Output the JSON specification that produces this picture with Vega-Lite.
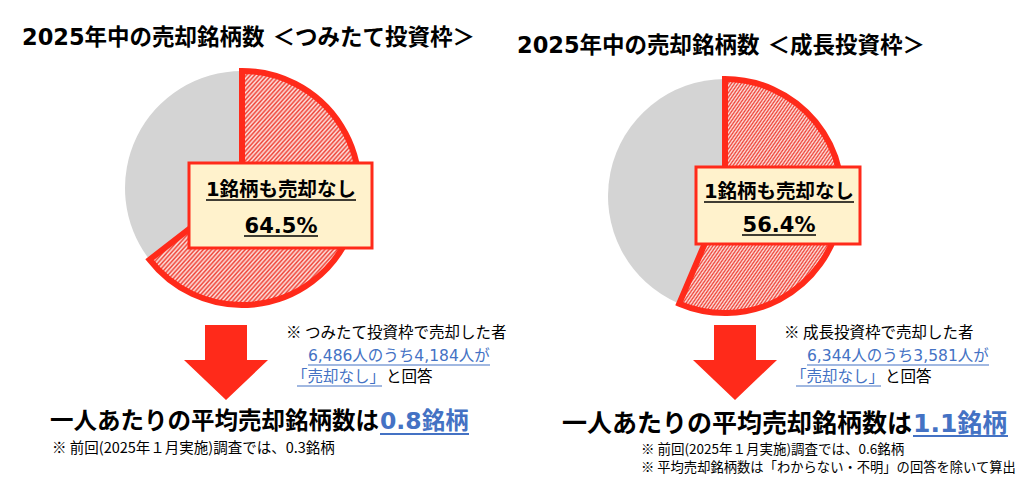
{
  "$schema": "https://vega.github.io/schema/vega-lite/v6.json",
  "description": "2025年中の売却銘柄数 (つみたて投資枠 / 成長投資枠)",
  "width": 1024,
  "height": 478,
  "padding": 0,
  "autosize": {"type": "fit", "contains": "padding"},
  "background": "#ffffff",
  "config": {
    "view": {"stroke": null},
    "text": {"font": "DejaVu Sans, Noto Sans CJK JP", "baseline": "middle", "align": "left"},
    "arc": {
      "fill": {
        "gradient": "linear", "x1": 0, "y1": 0, "x2": 1, "y2": 1,
        "stops": [
          {"offset":0,"color":"#ee4034"},{"offset":0.005,"color":"#fde6e3"},{"offset":0.01,"color":"#ee4034"},{"offset":0.015,"color":"#fde6e3"},{"offset":0.02,"color":"#ee4034"},{"offset":0.025,"color":"#fde6e3"},{"offset":0.03,"color":"#ee4034"},{"offset":0.035,"color":"#fde6e3"},{"offset":0.04,"color":"#ee4034"},{"offset":0.045,"color":"#fde6e3"},
          {"offset":0.05,"color":"#ee4034"},{"offset":0.055,"color":"#fde6e3"},{"offset":0.06,"color":"#ee4034"},{"offset":0.065,"color":"#fde6e3"},{"offset":0.07,"color":"#ee4034"},{"offset":0.075,"color":"#fde6e3"},{"offset":0.08,"color":"#ee4034"},{"offset":0.085,"color":"#fde6e3"},{"offset":0.09,"color":"#ee4034"},{"offset":0.095,"color":"#fde6e3"},
          {"offset":0.1,"color":"#ee4034"},{"offset":0.105,"color":"#fde6e3"},{"offset":0.11,"color":"#ee4034"},{"offset":0.115,"color":"#fde6e3"},{"offset":0.12,"color":"#ee4034"},{"offset":0.125,"color":"#fde6e3"},{"offset":0.13,"color":"#ee4034"},{"offset":0.135,"color":"#fde6e3"},{"offset":0.14,"color":"#ee4034"},{"offset":0.145,"color":"#fde6e3"},
          {"offset":0.15,"color":"#ee4034"},{"offset":0.155,"color":"#fde6e3"},{"offset":0.16,"color":"#ee4034"},{"offset":0.165,"color":"#fde6e3"},{"offset":0.17,"color":"#ee4034"},{"offset":0.175,"color":"#fde6e3"},{"offset":0.18,"color":"#ee4034"},{"offset":0.185,"color":"#fde6e3"},{"offset":0.19,"color":"#ee4034"},{"offset":0.195,"color":"#fde6e3"},
          {"offset":0.2,"color":"#ee4034"},{"offset":0.205,"color":"#fde6e3"},{"offset":0.21,"color":"#ee4034"},{"offset":0.215,"color":"#fde6e3"},{"offset":0.22,"color":"#ee4034"},{"offset":0.225,"color":"#fde6e3"},{"offset":0.23,"color":"#ee4034"},{"offset":0.235,"color":"#fde6e3"},{"offset":0.24,"color":"#ee4034"},{"offset":0.245,"color":"#fde6e3"},
          {"offset":0.25,"color":"#ee4034"},{"offset":0.255,"color":"#fde6e3"},{"offset":0.26,"color":"#ee4034"},{"offset":0.265,"color":"#fde6e3"},{"offset":0.27,"color":"#ee4034"},{"offset":0.275,"color":"#fde6e3"},{"offset":0.28,"color":"#ee4034"},{"offset":0.285,"color":"#fde6e3"},{"offset":0.29,"color":"#ee4034"},{"offset":0.295,"color":"#fde6e3"},
          {"offset":0.3,"color":"#ee4034"},{"offset":0.305,"color":"#fde6e3"},{"offset":0.31,"color":"#ee4034"},{"offset":0.315,"color":"#fde6e3"},{"offset":0.32,"color":"#ee4034"},{"offset":0.325,"color":"#fde6e3"},{"offset":0.33,"color":"#ee4034"},{"offset":0.335,"color":"#fde6e3"},{"offset":0.34,"color":"#ee4034"},{"offset":0.345,"color":"#fde6e3"},
          {"offset":0.35,"color":"#ee4034"},{"offset":0.355,"color":"#fde6e3"},{"offset":0.36,"color":"#ee4034"},{"offset":0.365,"color":"#fde6e3"},{"offset":0.37,"color":"#ee4034"},{"offset":0.375,"color":"#fde6e3"},{"offset":0.38,"color":"#ee4034"},{"offset":0.385,"color":"#fde6e3"},{"offset":0.39,"color":"#ee4034"},{"offset":0.395,"color":"#fde6e3"},
          {"offset":0.4,"color":"#ee4034"},{"offset":0.405,"color":"#fde6e3"},{"offset":0.41,"color":"#ee4034"},{"offset":0.415,"color":"#fde6e3"},{"offset":0.42,"color":"#ee4034"},{"offset":0.425,"color":"#fde6e3"},{"offset":0.43,"color":"#ee4034"},{"offset":0.435,"color":"#fde6e3"},{"offset":0.44,"color":"#ee4034"},{"offset":0.445,"color":"#fde6e3"},
          {"offset":0.45,"color":"#ee4034"},{"offset":0.455,"color":"#fde6e3"},{"offset":0.46,"color":"#ee4034"},{"offset":0.465,"color":"#fde6e3"},{"offset":0.47,"color":"#ee4034"},{"offset":0.475,"color":"#fde6e3"},{"offset":0.48,"color":"#ee4034"},{"offset":0.485,"color":"#fde6e3"},{"offset":0.49,"color":"#ee4034"},{"offset":0.495,"color":"#fde6e3"},
          {"offset":0.5,"color":"#ee4034"},{"offset":0.505,"color":"#fde6e3"},{"offset":0.51,"color":"#ee4034"},{"offset":0.515,"color":"#fde6e3"},{"offset":0.52,"color":"#ee4034"},{"offset":0.525,"color":"#fde6e3"},{"offset":0.53,"color":"#ee4034"},{"offset":0.535,"color":"#fde6e3"},{"offset":0.54,"color":"#ee4034"},{"offset":0.545,"color":"#fde6e3"},
          {"offset":0.55,"color":"#ee4034"},{"offset":0.555,"color":"#fde6e3"},{"offset":0.56,"color":"#ee4034"},{"offset":0.565,"color":"#fde6e3"},{"offset":0.57,"color":"#ee4034"},{"offset":0.575,"color":"#fde6e3"},{"offset":0.58,"color":"#ee4034"},{"offset":0.585,"color":"#fde6e3"},{"offset":0.59,"color":"#ee4034"},{"offset":0.595,"color":"#fde6e3"},
          {"offset":0.6,"color":"#ee4034"},{"offset":0.605,"color":"#fde6e3"},{"offset":0.61,"color":"#ee4034"},{"offset":0.615,"color":"#fde6e3"},{"offset":0.62,"color":"#ee4034"},{"offset":0.625,"color":"#fde6e3"},{"offset":0.63,"color":"#ee4034"},{"offset":0.635,"color":"#fde6e3"},{"offset":0.64,"color":"#ee4034"},{"offset":0.645,"color":"#fde6e3"},
          {"offset":0.65,"color":"#ee4034"},{"offset":0.655,"color":"#fde6e3"},{"offset":0.66,"color":"#ee4034"},{"offset":0.665,"color":"#fde6e3"},{"offset":0.67,"color":"#ee4034"},{"offset":0.675,"color":"#fde6e3"},{"offset":0.68,"color":"#ee4034"},{"offset":0.685,"color":"#fde6e3"},{"offset":0.69,"color":"#ee4034"},{"offset":0.695,"color":"#fde6e3"},
          {"offset":0.7,"color":"#ee4034"},{"offset":0.705,"color":"#fde6e3"},{"offset":0.71,"color":"#ee4034"},{"offset":0.715,"color":"#fde6e3"},{"offset":0.72,"color":"#ee4034"},{"offset":0.725,"color":"#fde6e3"},{"offset":0.73,"color":"#ee4034"},{"offset":0.735,"color":"#fde6e3"},{"offset":0.74,"color":"#ee4034"},{"offset":0.745,"color":"#fde6e3"},
          {"offset":0.75,"color":"#ee4034"},{"offset":0.755,"color":"#fde6e3"},{"offset":0.76,"color":"#ee4034"},{"offset":0.765,"color":"#fde6e3"},{"offset":0.77,"color":"#ee4034"},{"offset":0.775,"color":"#fde6e3"},{"offset":0.78,"color":"#ee4034"},{"offset":0.785,"color":"#fde6e3"},{"offset":0.79,"color":"#ee4034"},{"offset":0.795,"color":"#fde6e3"},
          {"offset":0.8,"color":"#ee4034"},{"offset":0.805,"color":"#fde6e3"},{"offset":0.81,"color":"#ee4034"},{"offset":0.815,"color":"#fde6e3"},{"offset":0.82,"color":"#ee4034"},{"offset":0.825,"color":"#fde6e3"},{"offset":0.83,"color":"#ee4034"},{"offset":0.835,"color":"#fde6e3"},{"offset":0.84,"color":"#ee4034"},{"offset":0.845,"color":"#fde6e3"},
          {"offset":0.85,"color":"#ee4034"},{"offset":0.855,"color":"#fde6e3"},{"offset":0.86,"color":"#ee4034"},{"offset":0.865,"color":"#fde6e3"},{"offset":0.87,"color":"#ee4034"},{"offset":0.875,"color":"#fde6e3"},{"offset":0.88,"color":"#ee4034"},{"offset":0.885,"color":"#fde6e3"},{"offset":0.89,"color":"#ee4034"},{"offset":0.895,"color":"#fde6e3"},
          {"offset":0.9,"color":"#ee4034"},{"offset":0.905,"color":"#fde6e3"},{"offset":0.91,"color":"#ee4034"},{"offset":0.915,"color":"#fde6e3"},{"offset":0.92,"color":"#ee4034"},{"offset":0.925,"color":"#fde6e3"},{"offset":0.93,"color":"#ee4034"},{"offset":0.935,"color":"#fde6e3"},{"offset":0.94,"color":"#ee4034"},{"offset":0.945,"color":"#fde6e3"},
          {"offset":0.95,"color":"#ee4034"},{"offset":0.955,"color":"#fde6e3"},{"offset":0.96,"color":"#ee4034"},{"offset":0.965,"color":"#fde6e3"},{"offset":0.97,"color":"#ee4034"},{"offset":0.975,"color":"#fde6e3"},{"offset":0.98,"color":"#ee4034"},{"offset":0.985,"color":"#fde6e3"},{"offset":0.99,"color":"#ee4034"},{"offset":0.995,"color":"#fde6e3"},
          {"offset":1,"color":"#ee4034"}
        ]
      }
    }
  },
  "datasets": {
    "pie": [
      {"panel": "つみたて投資枠", "category": "売却なし", "pct": 64.5},
      {"panel": "つみたて投資枠", "category": "売却あり", "pct": 35.5},
      {"panel": "成長投資枠", "category": "売却なし", "pct": 56.4},
      {"panel": "成長投資枠", "category": "売却あり", "pct": 43.6}
    ]
  },
  "layer": [
    {
      "data": {"name": "pie"},
      "transform": [{"filter": "datum.panel === 'つみたて投資枠'"}],
      "mark": {"type": "arc", "radius": 117, "x": 242, "y": 188, "fill": "#d4d4d4"},
      "encoding": {
        "theta": {"field": "pct", "type": "quantitative", "stack": true},
        "order": {"field": "category", "type": "ordinal", "sort": "descending"}
      }
    },
    {
      "data": {"name": "pie"},
      "transform": [{"filter": "datum.panel === 'つみたて投資枠'"}],
      "mark": {"type": "arc", "radius": 117, "x": 242, "y": 188, "stroke": "#ff2a1a", "strokeWidth": 6, "strokeJoin": "miter"},
      "encoding": {
        "theta": {"field": "pct", "type": "quantitative", "stack": true},
        "order": {"field": "category", "type": "ordinal", "sort": "descending"},
        "fillOpacity": {"condition": {"test": "datum.category === '売却なし'", "value": 1}, "value": 0},
        "strokeOpacity": {"condition": {"test": "datum.category === '売却なし'", "value": 1}, "value": 0}
      }
    },
    {
      "data": {"name": "pie"},
      "transform": [{"filter": "datum.panel === '成長投資枠'"}],
      "mark": {"type": "arc", "radius": 117, "x": 725, "y": 196, "fill": "#d4d4d4"},
      "encoding": {
        "theta": {"field": "pct", "type": "quantitative", "stack": true},
        "order": {"field": "category", "type": "ordinal", "sort": "descending"}
      }
    },
    {
      "data": {"name": "pie"},
      "transform": [{"filter": "datum.panel === '成長投資枠'"}],
      "mark": {"type": "arc", "radius": 117, "x": 725, "y": 196, "stroke": "#ff2a1a", "strokeWidth": 6, "strokeJoin": "miter"},
      "encoding": {
        "theta": {"field": "pct", "type": "quantitative", "stack": true},
        "order": {"field": "category", "type": "ordinal", "sort": "descending"},
        "fillOpacity": {"condition": {"test": "datum.category === '売却なし'", "value": 1}, "value": 0},
        "strokeOpacity": {"condition": {"test": "datum.category === '売却なし'", "value": 1}, "value": 0}
      }
    },
    {
      "data": {"values": [{"t": "2025年中の売却銘柄数 ＜つみたて投資枠＞"}]},
      "mark": {"type": "text", "x": 22, "y": 38, "fontSize": 22.5, "fontWeight": "bold", "fill": "#000000"},
      "encoding": {"text": {"field": "t"}}
    },
    {
      "data": {"values": [{"t": "2025年中の売却銘柄数 ＜成長投資枠＞"}]},
      "mark": {"type": "text", "x": 517, "y": 46, "fontSize": 22.5, "fontWeight": "bold", "fill": "#000000"},
      "encoding": {"text": {"field": "t"}}
    },
    {
      "data": {"values": [{"t": "1銘柄も売却なし"}]},
      "mark": {"type": "rect", "fill": "#fff2cc", "stroke": "#ff2a1a", "strokeWidth": 3},
      "encoding": {"x": {"value": 189}, "x2": {"value": 372}, "y": {"value": 163}, "y2": {"value": 248}}
    },
    {
      "data": {"values": [{"t": "1銘柄も売却なし"}]},
      "mark": {"type": "rect", "fill": "#fff2cc", "stroke": "#ff2a1a", "strokeWidth": 3},
      "encoding": {"x": {"value": 696}, "x2": {"value": 860}, "y": {"value": 167}, "y2": {"value": 244}}
    },
    {
      "data": {"values": [{"t": "1銘柄も売却なし"}]},
      "layer": [
        {"mark": {"type": "text", "x": 281, "y": 190, "align": "center", "fontSize": 19.5, "fontWeight": "bold", "fill": "#000000"}, "encoding": {"text": {"field": "t"}}},
        {"mark": {"type": "rule", "stroke": "#000000", "strokeWidth": 1.5}, "encoding": {"x": {"value": 206}, "x2": {"value": 356}, "y": {"value": 200}}}
      ]
    },
    {
      "data": {"values": [{"t": "64.5%"}]},
      "layer": [
        {"mark": {"type": "text", "x": 281, "y": 227, "align": "center", "fontSize": 21, "fontWeight": "bold", "fill": "#000000"}, "encoding": {"text": {"field": "t"}}},
        {"mark": {"type": "rule", "stroke": "#000000", "strokeWidth": 1.5}, "encoding": {"x": {"value": 244}, "x2": {"value": 318}, "y": {"value": 236}}}
      ]
    },
    {
      "data": {"values": [{"t": "1銘柄も売却なし"}]},
      "layer": [
        {"mark": {"type": "text", "x": 779, "y": 192, "align": "center", "fontSize": 19.5, "fontWeight": "bold", "fill": "#000000"}, "encoding": {"text": {"field": "t"}}},
        {"mark": {"type": "rule", "stroke": "#000000", "strokeWidth": 1.5}, "encoding": {"x": {"value": 704}, "x2": {"value": 854}, "y": {"value": 202}}}
      ]
    },
    {
      "data": {"values": [{"t": "56.4%"}]},
      "layer": [
        {"mark": {"type": "text", "x": 779, "y": 226, "align": "center", "fontSize": 21, "fontWeight": "bold", "fill": "#000000"}, "encoding": {"text": {"field": "t"}}},
        {"mark": {"type": "rule", "stroke": "#000000", "strokeWidth": 1.5}, "encoding": {"x": {"value": 742}, "x2": {"value": 816}, "y": {"value": 235}}}
      ]
    },
    {
      "data": {"values": [{"t": "arrow"}]},
      "mark": {"type": "point", "shape": "M-0.5,-0.893L0.5,-0.893L0.5,-0.06L1,-0.06L0,0.893L-1,-0.06L-0.5,-0.06Z", "size": 7056, "filled": true, "opacity": 1, "fill": "#ff2a1a", "strokeWidth": 0, "x": 226, "y": 362.5},
      "encoding": {}
    },
    {
      "data": {"values": [{"t": "arrow"}]},
      "mark": {"type": "point", "shape": "M-0.5,-0.893L0.5,-0.893L0.5,-0.06L1,-0.06L0,0.893L-1,-0.06L-0.5,-0.06Z", "size": 7056, "filled": true, "opacity": 1, "fill": "#ff2a1a", "strokeWidth": 0, "x": 735, "y": 362.5},
      "encoding": {}
    },
    {
      "data": {"values": [{"t": "※ つみたて投資枠で売却した者"}]},
      "mark": {"type": "text", "x": 286, "y": 333, "fontSize": 15.5, "font": "Noto Sans CJK JP", "fill": "#000000"},
      "encoding": {"text": {"field": "t"}}
    },
    {
      "data": {"values": [{"t": "6,486人のうち4,184人が"}]},
      "layer": [
        {"mark": {"type": "text", "x": 308, "y": 356, "fontSize": 15.5, "fill": "#4472c4"}, "encoding": {"text": {"field": "t"}}},
        {"mark": {"type": "rule", "stroke": "#4472c4", "strokeWidth": 1.2}, "encoding": {"x": {"value": 308}, "x2": {"value": 490}, "y": {"value": 365}}}
      ]
    },
    {
      "data": {"values": [{"t": "「売却なし」"}]},
      "layer": [
        {"mark": {"type": "text", "x": 292, "y": 377, "fontSize": 15.5, "fill": "#4472c4"}, "encoding": {"text": {"field": "t"}}},
        {"mark": {"type": "rule", "stroke": "#4472c4", "strokeWidth": 1.2}, "encoding": {"x": {"value": 297}, "x2": {"value": 382}, "y": {"value": 386}}}
      ]
    },
    {
      "data": {"values": [{"t": "と回答"}]},
      "mark": {"type": "text", "x": 386, "y": 377, "fontSize": 15.5, "fill": "#000000"},
      "encoding": {"text": {"field": "t"}}
    },
    {
      "data": {"values": [{"t": "※ 成長投資枠で売却した者"}]},
      "mark": {"type": "text", "x": 784, "y": 333, "fontSize": 15.5, "font": "Noto Sans CJK JP", "fill": "#000000"},
      "encoding": {"text": {"field": "t"}}
    },
    {
      "data": {"values": [{"t": "6,344人のうち3,581人が"}]},
      "layer": [
        {"mark": {"type": "text", "x": 807, "y": 356, "fontSize": 15.5, "fill": "#4472c4"}, "encoding": {"text": {"field": "t"}}},
        {"mark": {"type": "rule", "stroke": "#4472c4", "strokeWidth": 1.2}, "encoding": {"x": {"value": 807}, "x2": {"value": 989}, "y": {"value": 365}}}
      ]
    },
    {
      "data": {"values": [{"t": "「売却なし」"}]},
      "layer": [
        {"mark": {"type": "text", "x": 791, "y": 377, "fontSize": 15.5, "fill": "#4472c4"}, "encoding": {"text": {"field": "t"}}},
        {"mark": {"type": "rule", "stroke": "#4472c4", "strokeWidth": 1.2}, "encoding": {"x": {"value": 796}, "x2": {"value": 881}, "y": {"value": 386}}}
      ]
    },
    {
      "data": {"values": [{"t": "と回答"}]},
      "mark": {"type": "text", "x": 885, "y": 377, "fontSize": 15.5, "fill": "#000000"},
      "encoding": {"text": {"field": "t"}}
    },
    {
      "data": {"values": [{"t": "一人あたりの平均売却銘柄数は"}]},
      "mark": {"type": "text", "x": 50, "y": 422, "fontSize": 23.5, "fontWeight": "bold", "fill": "#000000"},
      "encoding": {"text": {"field": "t"}}
    },
    {
      "data": {"values": [{"t": "0.8銘柄"}]},
      "layer": [
        {"mark": {"type": "text", "x": 380, "y": 422, "fontSize": 23.5, "fontWeight": "bold", "fill": "#4472c4"}, "encoding": {"text": {"field": "t"}}},
        {"mark": {"type": "rule", "stroke": "#4472c4", "strokeWidth": 2}, "encoding": {"x": {"value": 380}, "x2": {"value": 469}, "y": {"value": 434}}}
      ]
    },
    {
      "data": {"values": [{"t": "一人あたりの平均売却銘柄数は"}]},
      "mark": {"type": "text", "x": 562, "y": 424, "fontSize": 25, "fontWeight": "bold", "fill": "#000000"},
      "encoding": {"text": {"field": "t"}}
    },
    {
      "data": {"values": [{"t": "1.1銘柄"}]},
      "layer": [
        {"mark": {"type": "text", "x": 913, "y": 424, "fontSize": 25, "fontWeight": "bold", "fill": "#4472c4"}, "encoding": {"text": {"field": "t"}}},
        {"mark": {"type": "rule", "stroke": "#4472c4", "strokeWidth": 2}, "encoding": {"x": {"value": 913}, "x2": {"value": 1008}, "y": {"value": 436}}}
      ]
    },
    {
      "data": {"values": [{"t": "※ 前回(2025年１月実施)調査では、0.3銘柄"}]},
      "mark": {"type": "text", "x": 52, "y": 449, "fontSize": 14.5, "font": "Noto Sans CJK JP", "fill": "#000000"},
      "encoding": {"text": {"field": "t"}}
    },
    {
      "data": {"values": [{"t": "※ 前回(2025年１月実施)調査では、0.6銘柄"}]},
      "mark": {"type": "text", "x": 641, "y": 450, "fontSize": 13.5, "font": "Noto Sans CJK JP", "fill": "#000000"},
      "encoding": {"text": {"field": "t"}}
    },
    {
      "data": {"values": [{"t": "※ 平均売却銘柄数は「わからない・不明」の回答を除いて算出"}]},
      "mark": {"type": "text", "x": 641, "y": 468, "fontSize": 13.3, "font": "Noto Sans CJK JP", "fill": "#000000"},
      "encoding": {"text": {"field": "t"}}
    }
  ]
}
